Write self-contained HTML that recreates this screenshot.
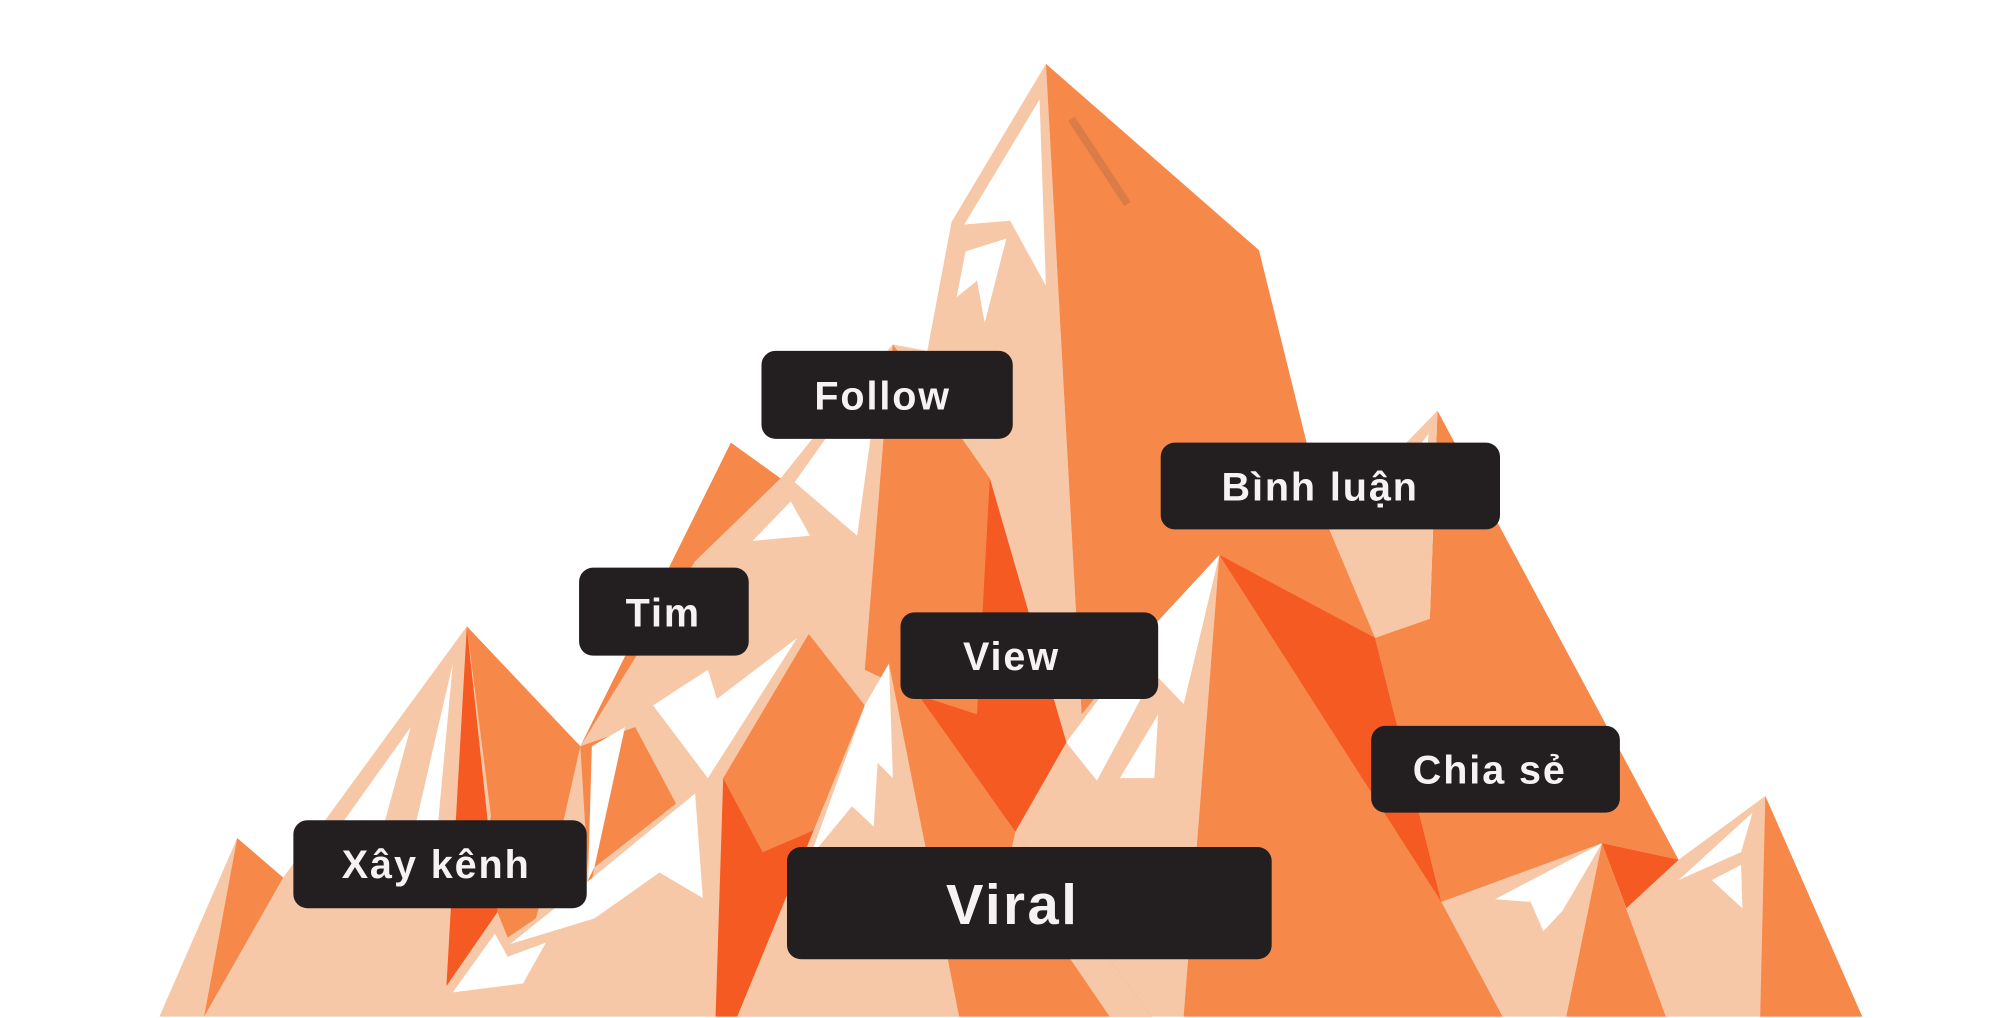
<!DOCTYPE html>
<html><head><meta charset="utf-8"><style>
html,body{margin:0;padding:0;background:#fff;}
svg{display:block;}
text{font-family:"Liberation Sans",sans-serif;font-weight:bold;fill:#f4f2f2;text-anchor:middle;dominant-baseline:central;letter-spacing:1.5px;}
</style></head><body>
<svg width="2000" height="1018" viewBox="0 0 1568 798" xmlns="http://www.w3.org/2000/svg">
<rect width="1568" height="798" fill="#fff"/>
<polygon points="1127,322 1316,674 1130,707 1078,500 1121,485" fill="#F6884A"/>
<polygon points="1127,322 1121,485 1078,500 1040,415 1090,360" fill="#F6C8A8"/>
<polygon points="820,50 746,174 727,275 700,270 640,340 612,375 545,440 455,585 366,491 222,688 186,657 125,797 1460,797 1384,624 1316,674 1256,661 1130,707 1078,500 956,435 905,490 848,560" fill="#F6C8A8"/>
<polygon points="820,50 987,196 1040,410 1078,500 1130,707 1178,797 928,797 956,435 905,490 848,560" fill="#F6884A"/>
<polygon points="956,435 1078,500 1130,707" fill="#F55A22"/>
<polygon points="815,78 756,176 792,173 820,224" fill="#fff"/>
<polygon points="757,197 789,187 772,253 766,220 750,233" fill="#fff"/>
<line x1="840" y1="93" x2="884" y2="160" stroke="#D97C45" stroke-width="6"/>
<polygon points="1120,340 1105,360 1118,365" fill="#fff"/>
<polygon points="700,270 755,345 776,375 836,582 796,652 720,545 678,525 693,340" fill="#F6884A"/>
<polygon points="776,375 836,582 796,652 720,545 766,560" fill="#F55A22"/>
<polygon points="650,340 623,378 672,420 683,340" fill="#fff"/>
<polygon points="620,393 590,424 635,420" fill="#fff"/>
<polygon points="573,347 612,375 545,440 455,585" fill="#F6884A"/>
<polygon points="555,525 512,553 555,610 625,500 562,548" fill="#fff"/>
<polygon points="956,435 928,552 905,528 860,612 836,582 905,490" fill="#fff"/>
<polygon points="908,560 878,610 905,610" fill="#fff"/>
<polygon points="634,497 678,553 640,650 598,668 567,610" fill="#F6884A"/>
<polygon points="567,610 598,668 640,650 578,797 561,797" fill="#F55A22"/>
<polygon points="697,520 752,797 578,797 678,553" fill="#F6C8A8"/>
<polygon points="697,520 720,545 796,652 903,797 752,797" fill="#F6884A"/>
<polygon points="796,652 903,797 870,797 790,680" fill="#F6C8A8"/>
<polygon points="697,520 700,610 688,598 685,648 668,632 635,672 678,553" fill="#fff"/>
<polygon points="366,491 455,585 438,660 420,720 398,735 390,715 350,773 385,640" fill="#F6884A"/>
<polygon points="366,491 390,715 350,773" fill="#F55A22"/>
<polygon points="455,585 498,570 530,630 466,680 462,700" fill="#F6884A"/>
<polygon points="490,570 464,585 461,690 466,680" fill="#fff"/>
<polygon points="545,622 551,704 517,684 466,720 400,740 450,700" fill="#fff"/>
<polygon points="388,732 398,750 428,739 410,771 355,778" fill="#fff"/>
<polygon points="355,520 343,650 325,650" fill="#fff"/>
<polygon points="322,570 300,650 265,650" fill="#fff"/>
<polygon points="186,657 222,688 160,797" fill="#F6884A"/>
<polygon points="1256,661 1306,797 1228,797" fill="#F6884A"/>
<polygon points="1256,661 1316,674 1275,712" fill="#F55A22"/>
<polygon points="1384,624 1460,797 1380,797" fill="#F6884A"/>
<polygon points="1256,661 1172,705 1200,707 1210,730 1225,714" fill="#fff"/>
<polygon points="1374,637 1316,690 1365,668" fill="#fff"/>
<polygon points="1365,678 1342,690 1366,712" fill="#fff"/>
<g fill="#231F20">
<rect x="597" y="275" width="197" height="69" rx="11"/>
<rect x="910" y="347" width="266" height="68" rx="11"/>
<rect x="454" y="445" width="133" height="69" rx="11"/>
<rect x="706" y="480" width="202" height="68" rx="11"/>
<rect x="1075" y="569" width="195" height="68" rx="11"/>
<rect x="230" y="643" width="230" height="69" rx="11"/>
<rect x="617" y="664" width="380" height="88" rx="11"/>
</g>
<text x="692" y="311" font-size="31">Follow</text>
<text x="1035" y="382" font-size="31">Bình luận</text>
<text x="520" y="481" font-size="31">Tim</text>
<text x="793" y="515" font-size="31">View</text>
<text x="1168" y="604" font-size="31">Chia sẻ</text>
<text x="342" y="678" font-size="31">Xây kênh</text>
<text x="794" y="709" font-size="44" style="letter-spacing:2px">Viral</text>
</svg>
</body></html>
